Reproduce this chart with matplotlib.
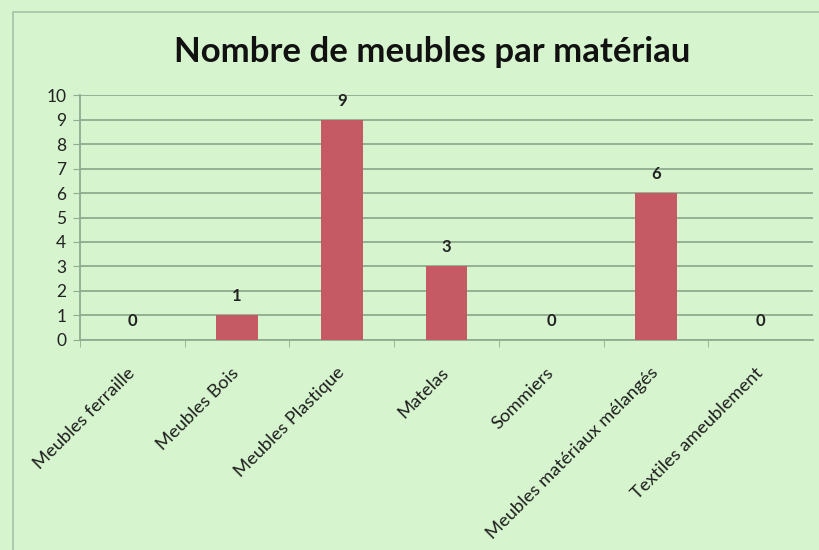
import matplotlib
matplotlib.use('Agg')
from matplotlib import pyplot as plt
from matplotlib.patches import Rectangle
from matplotlib.transforms import ScaledTranslation

categories = ['Meubles ferraille', 'Meubles Bois', 'Meubles Plastique', 'Matelas',
              'Sommiers', 'Meubles matériaux mélangés', 'Textiles ameublement']
counts = [0, 1, 9, 3, 0, 6, 0]

BG = '#d6f4cd'
BAR = '#c65a64'
GRID = '#90ab90'

plt.rcParams['font.family'] = ['Lato', 'DejaVu Sans']

fig = plt.figure(figsize=(8.19, 5.5), dpi=100, facecolor=BG)
ax = fig.add_axes([0.0977, 0.382, 0.895, 0.445], facecolor=BG)

x = list(range(len(categories)))
ax.bar(x, counts, width=0.4, color=BAR, zorder=3)
for xi, v in zip(x, counts):
    ax.annotate(str(v), (xi, v), xytext=(0, 8), textcoords='offset points',
                ha='center', va='bottom', fontsize=12, fontweight='bold', color='#222222')

ax.set_xlim(-0.5, len(categories) - 0.5)
ax.set_ylim(0, 10)
ax.set_yticks(range(0, 11))
ax.tick_params(axis='y', labelsize=12.5, length=5, color=GRID, labelcolor='#222222', pad=5)
ax.yaxis.grid(True, color=GRID, linewidth=1.3, zorder=0)
ax.set_axisbelow(True)

ax.set_xticks(x)
ax.set_xticklabels(categories, rotation=45, ha='right', rotation_mode='anchor',
                   fontsize=13.2, color='#1e1e1e')
ax.tick_params(axis='x', length=0, pad=12)
shift = ScaledTranslation(-6 / 100, -8 / 100, fig.dpi_scale_trans)
for lbl in ax.get_xticklabels():
    lbl.set_transform(lbl.get_transform() + shift)
ax.set_xticks([i + 0.5 for i in x[:-1]] + [-0.5], minor=True)
ax.tick_params(axis='x', which='minor', length=5, color=GRID)

for side in ['top', 'right']:
    ax.spines[side].set_visible(False)
ax.spines['left'].set_color(GRID)
ax.spines['bottom'].set_color(GRID)
ax.spines['left'].set_linewidth(1.3)
ax.spines['bottom'].set_linewidth(1.3)

fig.text(0.528, 0.905, 'Nombre de meubles par matériau', ha='center', va='center',
         fontsize=25, fontweight='bold', color='#111111')

fig.patches.append(Rectangle((0.016, -0.05), 1.1, 1.028, transform=fig.transFigure,
                             fill=False, edgecolor='#a8c0a8', linewidth=1.2))

fig.savefig('out.png', dpi=100, facecolor=BG)
